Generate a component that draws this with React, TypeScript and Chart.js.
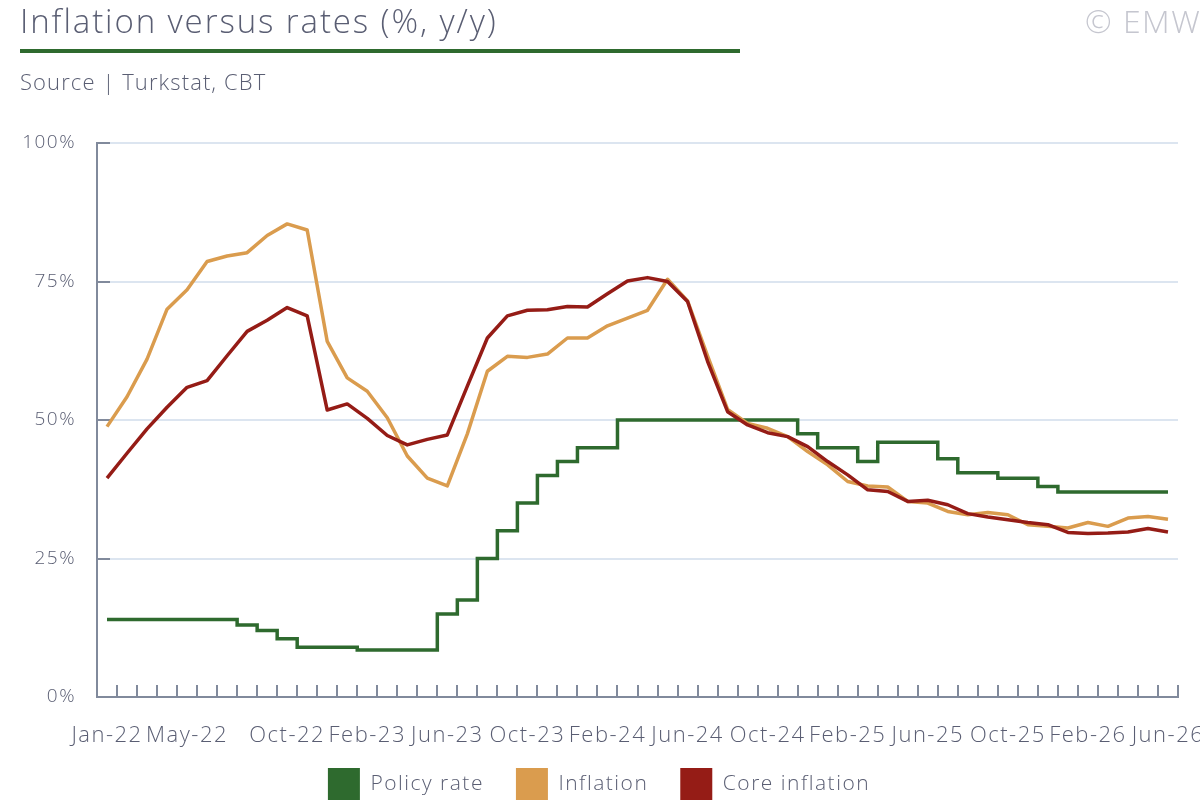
import { useEffect, useRef } from "react"
import { Chart, registerables } from "chart.js"

Chart.register(...registerables)

// month categories, Jan-22 .. Jun-26
const months = [
  "Jan-22", "Feb-22", "Mar-22", "Apr-22", "May-22", "Jun-22", "Jul-22", "Aug-22", "Sep-22", "Oct-22", "Nov-22", "Dec-22",
  "Jan-23", "Feb-23", "Mar-23", "Apr-23", "May-23", "Jun-23", "Jul-23", "Aug-23", "Sep-23", "Oct-23", "Nov-23", "Dec-23",
  "Jan-24", "Feb-24", "Mar-24", "Apr-24", "May-24", "Jun-24", "Jul-24", "Aug-24", "Sep-24", "Oct-24", "Nov-24", "Dec-24",
  "Jan-25", "Feb-25", "Mar-25", "Apr-25", "May-25", "Jun-25", "Jul-25", "Aug-25", "Sep-25", "Oct-25", "Nov-25", "Dec-25",
  "Jan-26", "Feb-26", "Mar-26", "Apr-26", "May-26", "Jun-26",
]

// labels actually printed under the axis
const shownLabels = [
  "Jan-22", "May-22", "Oct-22", "Feb-23", "Jun-23", "Oct-23", "Feb-24",
  "Jun-24", "Oct-24", "Feb-25", "Jun-25", "Oct-25", "Feb-26", "Jun-26",
]

const policyRate = [
  14, 14, 14, 14, 14, 14, 14, 13, 12, 10.5, 9, 9,
  9, 8.5, 8.5, 8.5, 8.5, 15, 17.5, 25, 30, 35, 40, 42.5,
  45, 45, 50, 50, 50, 50, 50, 50, 50, 50, 50, 47.5,
  45, 45, 42.5, 46, 46, 46, 43, 40.5, 40.5, 39.5, 39.5, 38,
  37, 37, 37, 37, 37, 37,
]

const inflation = [
  48.8, 54.2, 61.0, 70.0, 73.5, 78.6, 79.6, 80.2, 83.3, 85.4, 84.3, 64.2,
  57.6, 55.2, 50.4, 43.5, 39.5, 38.1, 47.5, 58.8, 61.5, 61.3, 61.9, 64.8,
  64.8, 67.0, 68.4, 69.8, 75.4, 71.5, 61.6, 51.9, 49.4, 48.5, 47.0, 44.3,
  41.9, 38.9, 38.1, 37.9, 35.3, 35.0, 33.5, 32.9, 33.3, 32.9, 31.1, 30.8,
  30.5, 31.5, 30.8, 32.3, 32.6, 32.1,
]

const coreInflation = [
  39.5, 44.0, 48.4, 52.3, 55.9, 57.1, 61.6, 66.0, 68.0, 70.3, 68.8, 51.8,
  52.9, 50.3, 47.2, 45.5, 46.5, 47.3, 56.1, 64.8, 68.8, 69.8, 69.9, 70.5,
  70.4, 72.8, 75.1, 75.7, 75.0, 71.4, 60.6, 51.5, 49.1, 47.7, 47.0, 45.2,
  42.5, 40.1, 37.4, 37.1, 35.3, 35.5, 34.7, 33.1, 32.5, 32.0, 31.5, 31.1,
  29.7, 29.5, 29.6, 29.8, 30.4, 29.8,
]

const GREEN = "#2e6a2e"
const ORANGE = "#da9c4e"
const RED = "#951c16"
const TEXT = "#5a5e73"
const AXIS = "#818a9c"
const GRID = "#dce5f0"
const FONT = "'Open Sans', Lato, sans-serif"

// the original face is wider than anything installed, so space the canvas text out a bit
const letterSpacing = {
  id: "letterSpacing",
  beforeLayout(chart: Chart) {
    ;(chart.ctx as any).letterSpacing = "1.5px"
  },
  beforeDraw(chart: Chart) {
    ;(chart.ctx as any).letterSpacing = "1.5px"
  },
}

export default function App() {
  const canvasRef = useRef<HTMLCanvasElement>(null)
  const chartRef = useRef<Chart | null>(null)

  useEffect(() => {
    if (!canvasRef.current) return
    if (chartRef.current) chartRef.current.destroy()

    chartRef.current = new Chart(canvasRef.current, {
      type: "line",
      data: {
        labels: months,
        datasets: [
          {
            label: "Policy rate",
            data: policyRate,
            borderColor: GREEN,
            backgroundColor: GREEN,
            borderWidth: 3.5,
            stepped: "middle",
            pointRadius: 0,
            order: 2,
          },
          {
            label: "Inflation",
            data: inflation,
            borderColor: ORANGE,
            backgroundColor: ORANGE,
            borderWidth: 3.5,
            pointRadius: 0,
            borderJoinStyle: "round",
            order: 1,
          },
          {
            label: "Core inflation",
            data: coreInflation,
            borderColor: RED,
            backgroundColor: RED,
            borderWidth: 3.5,
            pointRadius: 0,
            borderJoinStyle: "round",
            order: 0,
          },
        ],
      },
      options: {
        responsive: false,
        animation: false,
        layout: { padding: { top: 143, left: 20, right: 62, bottom: 0 } },
        scales: {
          x: {
            offset: true,
            // short axis box so the legend sits close; mirrored labels are not clipped to it
            afterFit: (scale) => {
              scale.height = 39
            },
            grid: {
              offset: true,
              drawOnChartArea: false,
              drawTicks: true,
              tickLength: -12,
              tickColor: AXIS,
              lineWidth: 2,
            },
            border: { color: AXIS, width: 2 },
            ticks: {
              autoSkip: false,
              maxRotation: 0,
              mirror: true,
              padding: -52,
              color: TEXT,
              font: { family: FONT, size: 22, weight: 300 },
              callback: (_v, i) => (shownLabels.includes(months[i]) ? months[i] : ""),
            },
          },
          y: {
            min: 0,
            max: 100,
            afterFit: (scale) => {
              scale.width = 77
            },
            grid: {
              color: (ctx) => (ctx.tick && ctx.tick.value === 0 ? "rgba(0,0,0,0)" : GRID),
              lineWidth: 2,
              tickLength: -13,
              tickColor: AXIS,
            },
            border: { color: AXIS, width: 2 },
            ticks: {
              stepSize: 25,
              padding: 34,
              color: TEXT,
              font: { family: FONT, size: 19, weight: 300 },
              callback: (v) => v + "%",
            },
          },
        },
        plugins: {
          tooltip: { enabled: false },
          legend: {
            position: "bottom",
            labels: {
              boxWidth: 32,
              boxHeight: 32,
              padding: 32,
              color: TEXT,
              font: { family: FONT, size: 21, weight: 300 },
              sort: (a, b) => (a.datasetIndex ?? 0) - (b.datasetIndex ?? 0),
              generateLabels: (chart) =>
                Chart.defaults.plugins.legend.labels.generateLabels(chart).map((l) => ({ ...l, lineWidth: 0 })),
            },
          },
        },
      },
      plugins: [letterSpacing],
    })

    return () => {
      if (chartRef.current) {
        chartRef.current.destroy()
        chartRef.current = null
      }
    }
  }, [])

  return (
    <div
      style={{
        position: "absolute",
        top: 0,
        left: 0,
        width: 1200,
        height: 800,
        overflow: "hidden",
        background: "#fff",
        fontFamily: FONT,
        fontWeight: 300,
      }}
    >
      <canvas
        ref={canvasRef}
        width={1240}
        height={810}
        style={{ position: "absolute", top: 0, left: 0, width: 1240, height: 810 }}
      />
      <div
        style={{
          position: "absolute",
          left: 20,
          top: -2,
          fontSize: 33,
          letterSpacing: 1.9,
          color: TEXT,
          lineHeight: "46px",
          whiteSpace: "nowrap",
        }}
      >
        Inflation versus rates (%, y/y)
      </div>
      <div style={{ position: "absolute", left: 20, top: 49, width: 720, height: 4, background: GREEN }} />
      <div
        style={{
          position: "absolute",
          left: 20,
          top: 66,
          fontSize: 22,
          letterSpacing: 1.1,
          color: TEXT,
          lineHeight: "30px",
          whiteSpace: "nowrap",
        }}
      >
        Source | Turkstat, CBT
      </div>
      <div
        style={{
          position: "absolute",
          left: 1085,
          top: -1,
          fontSize: 32,
          letterSpacing: 1.5,
          color: "#c5c6cf",
          lineHeight: "44px",
          whiteSpace: "nowrap",
        }}
      >
        © EMW
      </div>
    </div>
  )
}
